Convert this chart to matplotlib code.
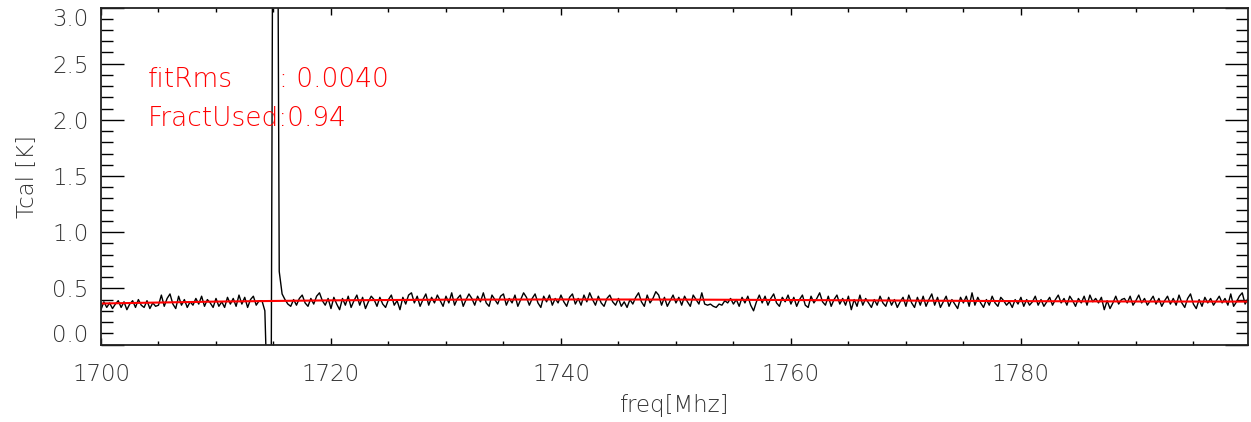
import numpy as np
import matplotlib
matplotlib.use("Agg")
import matplotlib.pyplot as plt
from matplotlib.ticker import MultipleLocator
from matplotlib.transforms import ScaledTranslation

plt.rcParams['font.family'] = ['DejaVu Sans']
plt.rcParams['font.weight'] = 'light'
plt.rcParams['axes.labelweight'] = 'light'

# channel frequencies (MHz), 0.25 MHz spacing
freq = np.arange(1700.0, 1800.0, 0.25)

# measured Tcal [K], one row per 5 MHz
tcal = [
    0.31, 0.38, 0.33, 0.37, 0.32, 0.36, 0.39, 0.33, 0.38, 0.31, 0.36, 0.39, 0.33, 0.40, 0.35, 0.33, 0.39, 0.32, 0.37, 0.34,
    0.35, 0.44, 0.34, 0.41, 0.45, 0.36, 0.32, 0.43, 0.35, 0.40, 0.33, 0.38, 0.35, 0.41, 0.36, 0.43, 0.34, 0.40, 0.37, 0.33,
    0.41, 0.34, 0.38, 0.33, 0.42, 0.36, 0.41, 0.34, 0.44, 0.36, 0.42, 0.33, 0.40, 0.43, 0.35, 0.39, 0.39, 0.30, -0.6, -2.0,
    6.0, 7.0, 0.65, 0.45, 0.40, 0.36, 0.34, 0.40, 0.35, 0.41, 0.44, 0.37, 0.34, 0.41, 0.36, 0.43, 0.46, 0.39, 0.35, 0.41,
    0.32, 0.42, 0.36, 0.31, 0.41, 0.35, 0.43, 0.33, 0.39, 0.44, 0.35, 0.42, 0.32, 0.38, 0.43, 0.40, 0.34, 0.42, 0.36, 0.33,
    0.40, 0.44, 0.35, 0.39, 0.31, 0.42, 0.36, 0.44, 0.46, 0.37, 0.43, 0.34, 0.40, 0.45, 0.35, 0.42, 0.37, 0.44, 0.39, 0.34,
    0.43, 0.37, 0.46, 0.35, 0.41, 0.44, 0.34, 0.40, 0.45, 0.41, 0.35, 0.43, 0.38, 0.46, 0.37, 0.34, 0.44, 0.40, 0.36, 0.43,
    0.45, 0.35, 0.41, 0.37, 0.44, 0.34, 0.40, 0.46, 0.42, 0.35, 0.41, 0.45, 0.37, 0.33, 0.43, 0.38, 0.44, 0.35, 0.41, 0.37,
    0.44, 0.38, 0.34, 0.42, 0.45, 0.36, 0.41, 0.35, 0.44, 0.38, 0.46, 0.40, 0.35, 0.43, 0.37, 0.34, 0.41, 0.44, 0.38, 0.35,
    0.41, 0.34, 0.38, 0.33, 0.40, 0.36, 0.42, 0.46, 0.38, 0.34, 0.44, 0.37, 0.41, 0.47, 0.44, 0.35, 0.42, 0.34, 0.39, 0.44,
    0.37, 0.42, 0.35, 0.43, 0.38, 0.34, 0.44, 0.40, 0.36, 0.46, 0.36, 0.35, 0.36, 0.34, 0.33, 0.36, 0.35, 0.39, 0.37, 0.41,
    0.36, 0.40, 0.34, 0.42, 0.37, 0.43, 0.35, 0.30, 0.38, 0.44, 0.37, 0.43, 0.35, 0.41, 0.45, 0.37, 0.34, 0.42, 0.38, 0.44,
    0.36, 0.42, 0.34, 0.40, 0.44, 0.35, 0.33, 0.43, 0.37, 0.41, 0.46, 0.38, 0.35, 0.43, 0.34, 0.40, 0.44, 0.36, 0.41, 0.35,
    0.43, 0.31, 0.40, 0.34, 0.44, 0.35, 0.41, 0.37, 0.33, 0.40, 0.35, 0.43, 0.37, 0.34, 0.42, 0.35, 0.40, 0.33, 0.38, 0.42,
    0.34, 0.44, 0.37, 0.33, 0.42, 0.35, 0.43, 0.34, 0.40, 0.45, 0.35, 0.42, 0.33, 0.38, 0.43, 0.34, 0.40, 0.36, 0.32, 0.42,
    0.37, 0.43, 0.34, 0.46, 0.35, 0.42, 0.37, 0.33, 0.40, 0.35, 0.43, 0.37, 0.34, 0.42, 0.39, 0.35, 0.38, 0.33, 0.40, 0.36,
    0.42, 0.34, 0.40, 0.35, 0.38, 0.43, 0.35, 0.40, 0.34, 0.38, 0.42, 0.35, 0.40, 0.44, 0.37, 0.41, 0.35, 0.43, 0.39, 0.34,
    0.41, 0.37, 0.43, 0.35, 0.44, 0.38, 0.41, 0.37, 0.42, 0.31, 0.39, 0.32, 0.37, 0.43, 0.36, 0.40, 0.41, 0.37, 0.43, 0.35,
    0.39, 0.44, 0.37, 0.41, 0.35, 0.39, 0.43, 0.36, 0.41, 0.34, 0.39, 0.43, 0.36, 0.41, 0.35, 0.44, 0.37, 0.33, 0.41, 0.45,
    0.36, 0.32, 0.40, 0.34, 0.42, 0.37, 0.41, 0.35, 0.39, 0.43, 0.37, 0.41, 0.35, 0.45, 0.34, 0.38, 0.43, 0.46, 0.36, 0.41,
]

# baseline fit, read every 10 MHz
fit_freq = [1700, 1710, 1720, 1730, 1740, 1750, 1760, 1770, 1780, 1790, 1800]
fit_tcal = [0.365, 0.382, 0.393, 0.399, 0.401, 0.400, 0.396, 0.391, 0.386, 0.383, 0.382]

fit_rms = 0.0040
fract_used = 0.94

txt_col = "#333333"

fig = plt.figure(figsize=(12.51, 4.22), dpi=100)
ax = fig.add_axes([101 / 1251, 77.5 / 422, 1147 / 1251, 337 / 422])

ax.plot(freq, tcal, color="black", lw=1.0)
ax.plot(fit_freq, fit_tcal, color="red", lw=1.5)

ax.set_xlim(1700, 1799.75)
ax.set_ylim(0, 3.0)

ax.xaxis.set_major_locator(MultipleLocator(20))
ax.xaxis.set_minor_locator(MultipleLocator(5))
ax.yaxis.set_major_locator(MultipleLocator(0.5))
ax.yaxis.set_minor_locator(MultipleLocator(0.1))
ax.xaxis.set_major_formatter(plt.FuncFormatter(lambda v, p: f"{v:.0f}"))
ax.yaxis.set_major_formatter(plt.FuncFormatter(lambda v, p: f"{v:.1f}"))

ax.tick_params(axis="x", which="both", direction="in", top=True, bottom=True,
               labelsize=16.5, pad=13, width=1.0, labelcolor=txt_col)
ax.tick_params(axis="x", which="major", length=5)
ax.tick_params(axis="x", which="minor", length=3)
ax.tick_params(axis="y", which="both", direction="in", left=True, right=True,
               labelsize=16.5, pad=9, width=1.0, labelcolor=txt_col)
ax.tick_params(axis="y", which="major", length=16.5)
ax.tick_params(axis="y", which="minor", length=8.5)

for s in ax.spines.values():
    s.set_linewidth(1.3)
    s.set_color("#222222")

# IDL style: end labels pulled inside the axis range
fig.canvas.draw()
for lab in ax.get_yticklabels():
    txt = lab.get_text()
    if txt == "0.0":
        lab.set_transform(lab.get_transform() + ScaledTranslation(0, 11 / 100, fig.dpi_scale_trans))
    elif txt == "3.0":
        lab.set_transform(lab.get_transform() + ScaledTranslation(0, -9 / 100, fig.dpi_scale_trans))

ax.set_xlabel("freq[Mhz]", fontsize=16.5, labelpad=6, color=txt_col, fontweight="light")
ax.set_ylabel("Tcal [K]", fontsize=16.5, labelpad=10, color=txt_col, fontweight="light")

ax.text(0.041, 0.785, "fitRms", color="red", fontsize=19,
        transform=ax.transAxes, va="center", ha="left")
ax.text(0.155, 0.785, f": {fit_rms:.4f}", color="red", fontsize=19,
        transform=ax.transAxes, va="center", ha="left")
ax.text(0.041, 0.672, f"FractUsed:{fract_used:.2f}", color="red", fontsize=19,
        transform=ax.transAxes, va="center", ha="left")

fig.savefig("out.png", dpi=100)
